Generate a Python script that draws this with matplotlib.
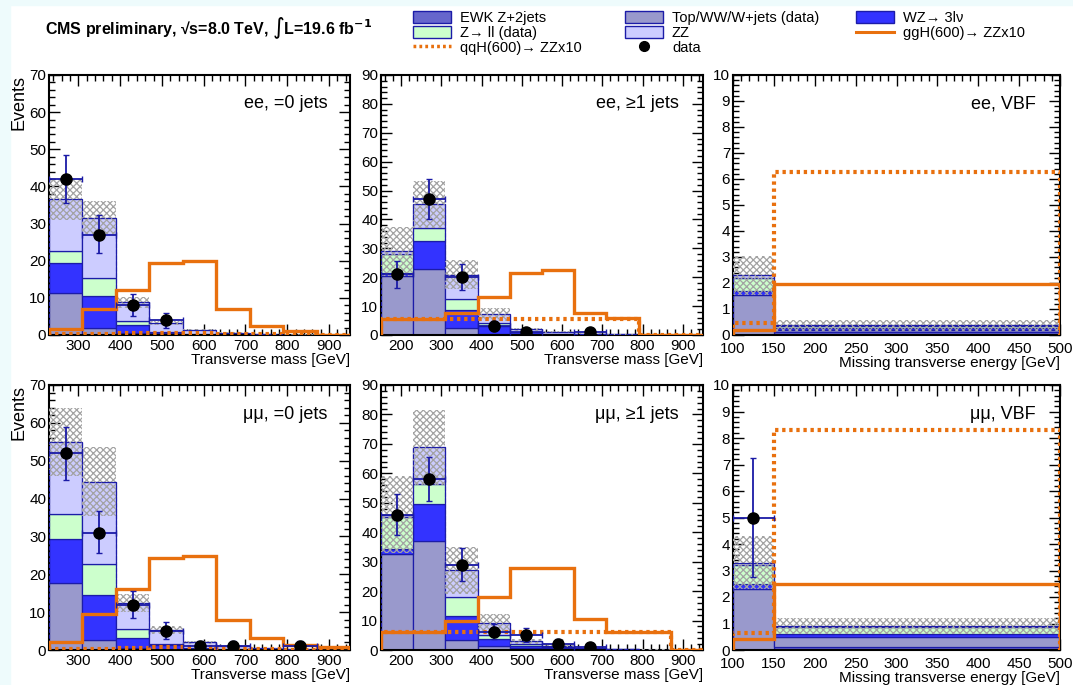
import numpy as np
import matplotlib
matplotlib.use("Agg")
import matplotlib.pyplot as plt
from matplotlib.patches import Patch, Rectangle
from matplotlib.lines import Line2D
from matplotlib.ticker import MultipleLocator

plt.rcParams['font.family'] = ['Liberation Sans', 'DejaVu Sans']
plt.rcParams['hatch.linewidth'] = 0.9

# ---- data ----
mt_edges_0j = [230, 310, 390, 470, 550, 630, 710, 790, 870, 950]
mt_edges_1j = [150, 230, 310, 390, 470, 550, 630, 710, 790, 870, 950]
met_edges_vbf = [100, 150, 500]

# ee, =0 jets
ee0_ewk = [0, 0, 0, 0, 0, 0, 0, 0, 0]
ee0_top = [11.3, 1.8, 0.5, 0.2, 0.1, 0.05, 0, 0, 0]
ee0_wz = [8.0, 8.7, 2.1, 0.4, 0.2, 0.1, 0.05, 0, 0]
ee0_zll = [3.4, 4.8, 1.2, 0.3, 0.1, 0.05, 0, 0, 0]
ee0_zz = [13.8, 16.3, 5.0, 2.4, 0.9, 0.4, 0.25, 0.1, 0.05]
ee0_unc = [5.5, 4.5, 1.4, 0.6, 0.3, 0.15, 0.1, 0.05, 0.02]
ee0_data = [42, 27, 8, 4, 0, 0, 0, 0, 0]
ee0_dlo = [6.5, 5.0, 2.8, 2.0, 0, 0, 0, 0, 0]
ee0_dhi = [6.5, 5.3, 3.0, 2.0, 0, 0, 0, 0, 0]
ee0_ggh = [1.5, 7.0, 12.2, 19.5, 19.8, 7.0, 2.5, 1.0, 0]
ee0_qqh = [0.2, 0.3, 0.5, 0.6, 0.6, 0.4, 0.2, 0.1, 0]

# ee, >=1 jets
ee1_ewk = [0, 0, 0, 0, 0, 0, 0, 0, 0, 0]
ee1_top = [20.5, 22.8, 2.4, 0.5, 0.3, 0.1, 0.05, 0, 0, 0]
ee1_wz = [1.0, 9.7, 6.3, 2.7, 0.6, 0.3, 0.1, 0.05, 0, 0]
ee1_zll = [6.5, 4.4, 3.7, 0.9, 0.3, 0.1, 0.05, 0, 0, 0]
ee1_zz = [1.0, 8.3, 8.4, 3.1, 0.8, 0.5, 0.3, 0.15, 0.05, 0.02]
ee1_unc = [8.5, 8.0, 5.0, 2.2, 0.5, 0.3, 0.15, 0.05, 0.02, 0]
ee1_data = [21, 47, 20, 3, 1, 0, 1, 0, 0, 0]
ee1_dlo = [4.6, 7.0, 4.5, 1.6, 0.8, 0, 0.8, 0, 0, 0]
ee1_dhi = [4.6, 7.0, 4.5, 2.0, 1.3, 0, 1.3, 0, 0, 0]
ee1_ggh = [5.6, 5.6, 7.6, 13.3, 21.4, 22.5, 7.6, 5.9, 0, 0]
ee1_qqh = [5.5, 5.5, 5.5, 5.5, 5.5, 5.5, 5.5, 5.5, 0, 0]

# ee, VBF
eev_ewk = [0.0, 0.1]
eev_top = [1.55, 0.1]
eev_wz = [0.15, 0.05]
eev_zll = [0.5, 0.1]
eev_zz = [0.1, 0.02]
eev_unc = [0.75, 0.2]
eev_data = [0, 0]
eev_dlo = [0, 0]
eev_dhi = [0, 0]
eev_ggh = [0.2, 1.95]
eev_qqh = [0.45, 6.25]

# mumu, =0 jets
mm0_ewk = [0, 0, 0, 0, 0, 0, 0, 0, 0]
mm0_top = [17.8, 2.7, 0.5, 0.2, 0.1, 0.05, 0, 0, 0]
mm0_wz = [11.6, 11.8, 2.6, 1.0, 0.3, 0.15, 0.05, 0.05, 0]
mm0_zll = [6.4, 8.1, 2.4, 0.4, 0.2, 0.1, 0.05, 0, 0]
mm0_zz = [19.2, 21.9, 6.9, 3.7, 1.4, 0.7, 0.3, 0.15, 0.05]
mm0_unc = [9.0, 9.0, 2.3, 1.0, 0.4, 0.2, 0.1, 0.05, 0.02]
mm0_data = [52, 31, 12, 5, 1, 1, 0, 1, 0]
mm0_dlo = [7.0, 5.5, 3.5, 2.2, 0.8, 0.8, 0, 0.8, 0]
mm0_dhi = [7.0, 5.8, 3.6, 2.3, 1.3, 1.3, 0, 1.3, 0]
mm0_ggh = [2.2, 9.6, 16.0, 24.4, 24.8, 8.0, 3.1, 1.3, 0.7]
mm0_qqh = [0.2, 0.3, 0.5, 0.7, 0.7, 0.5, 0.3, 0.1, 0]

# mumu, >=1 jets
mm1_ewk = [0, 0, 0, 0, 0, 0, 0, 0, 0, 0]
mm1_top = [32.7, 37.0, 3.5, 1.5, 0.6, 0.3, 0.1, 0.05, 0, 0]
mm1_wz = [1.5, 12.7, 8.0, 2.4, 0.8, 0.4, 0.2, 0.1, 0.05, 0]
mm1_zll = [11.0, 6.7, 6.5, 1.1, 0.5, 0.2, 0.1, 0.05, 0, 0]
mm1_zz = [0.8, 12.4, 9.1, 4.3, 1.1, 0.6, 0.4, 0.2, 0.1, 0.05]
mm1_unc = [13.0, 12.7, 8.0, 2.8, 0.8, 0.4, 0.2, 0.1, 0.05, 0]
mm1_data = [46, 58, 29, 6, 5, 2, 1, 0, 0, 0]
mm1_dlo = [7.0, 7.5, 5.5, 2.4, 2.2, 1.3, 0.8, 0, 0, 0]
mm1_dhi = [7.0, 7.5, 5.5, 2.8, 2.5, 1.6, 1.3, 0, 0, 0]
mm1_ggh = [6.2, 6.2, 10.0, 18.0, 27.7, 27.7, 10.4, 6.2, 6.2, 0]
mm1_qqh = [6.2, 6.2, 6.2, 6.2, 6.2, 6.2, 6.2, 6.2, 6.2, 0]

# mumu, VBF
mmv_ewk = [0.0, 0.1]
mmv_top = [2.3, 0.4]
mmv_wz = [0.2, 0.1]
mmv_zll = [0.7, 0.25]
mmv_zz = [0.1, 0.05]
mmv_unc = [1.0, 0.3]
mmv_data = [5, 0]
mmv_dlo = [2.25, 0]
mmv_dhi = [2.25, 0]
mmv_ggh = [0.4, 2.5]
mmv_qqh = [0.65, 8.3]

# ---- styles ----
c_ewk = '#6666cc'
c_top = '#9999cc'
c_wz = '#3333ff'
c_zll = '#ccffcc'
c_zz = '#ccccff'
c_line = '#1c1ca8'
c_sig = '#e8700e'
c_err = '#1a1aa6'

W, H = 1073, 685
fig = plt.figure(figsize=(W / 100, H / 100), dpi=100)
fig.patches.append(Rectangle((0, 0), 10 / W, 1, transform=fig.transFigure,
                             color='#eefbfc', zorder=-1))
fig.patches.append(Rectangle((0, 1 - 5 / H), 1, 5 / H, transform=fig.transFigure,
                             color='#eefbfc', zorder=-1))


def ax_at(x0, y0, x1, y1):
    return fig.add_axes([x0 / W, 1 - y1 / H, (x1 - x0) / W, (y1 - y0) / H])


def draw(ax, edges, ewk, top, wz, zll, zz, unc, data, dlo, dhi, ggh, qqh,
         label, xlabel, ymax, xmaj, xmin, ymaj, ymin, ylabel=False, xpad=3, xlpad=0):
    edges = np.array(edges, dtype=float)
    left = edges[:-1]
    width = np.diff(edges)
    base = np.zeros(len(left))
    for vals, col in [(ewk, c_ewk), (top, c_top), (wz, c_wz), (zll, c_zll), (zz, c_zz)]:
        vals = np.array(vals, dtype=float)
        ax.bar(left, vals, width=width, bottom=base, align='edge', color=col,
               edgecolor=c_line, linewidth=0.9, zorder=2)
        base = base + vals
    unc = np.array(unc, dtype=float)
    ax.bar(left, 2 * unc, width=width, bottom=base - unc, align='edge',
           facecolor='none', edgecolor='#a3a3a3', hatch='xxxxx', linewidth=0, zorder=3)
    ax.stairs(base, edges, color=c_line, linestyle='--', linewidth=0.8, zorder=3)
    ax.stairs(ggh, edges, color=c_sig, linewidth=2.4, zorder=4)
    ax.stairs(qqh, edges, color=c_sig, linewidth=3, linestyle=(0, (0.8, 0.9)), zorder=4)
    data = np.array(data, dtype=float)
    m = data > 0
    xc = left + width / 2
    ax.errorbar(xc[m], data[m], xerr=width[m] / 2,
                yerr=[np.array(dlo)[m], np.array(dhi)[m]], fmt='o', color='black',
                ecolor=c_err, elinewidth=1.3, capsize=2.5, markersize=8, zorder=5)
    ax.set_xlim(edges[0], edges[-1])
    ax.set_ylim(0, ymax)
    ax.xaxis.set_major_locator(MultipleLocator(xmaj))
    ax.xaxis.set_minor_locator(MultipleLocator(xmin))
    ax.yaxis.set_major_locator(MultipleLocator(ymaj))
    ax.yaxis.set_minor_locator(MultipleLocator(ymin))
    ax.tick_params(which='both', direction='in', top=True, right=True, labelsize=11, width=1)
    ax.tick_params(which='major', length=8)
    ax.tick_params(axis='x', which='major', pad=xpad)
    ax.tick_params(axis='y', which='major', pad=2)
    ax.tick_params(which='minor', length=4)
    for s in ax.spines.values():
        s.set_linewidth(1.5)
    ax.text(0.925, 0.89, label, transform=ax.transAxes, ha='right', va='center', fontsize=13)
    ax.set_xlabel(xlabel, fontsize=11, loc='right', labelpad=xlpad)
    if ylabel:
        ax.set_ylabel('Events', fontsize=13, loc='top', labelpad=1)


mtl = 'Transverse mass [GeV]'
metl = 'Missing transverse energy [GeV]'

a1 = ax_at(49, 75, 350, 335)
draw(a1, mt_edges_0j, ee0_ewk, ee0_top, ee0_wz, ee0_zll, ee0_zz, ee0_unc, ee0_data,
     ee0_dlo, ee0_dhi, ee0_ggh, ee0_qqh, 'ee, =0 jets', mtl, 70, 100, 20, 10, 2, True)
a2 = ax_at(381, 75, 703, 335)
draw(a2, mt_edges_1j, ee1_ewk, ee1_top, ee1_wz, ee1_zll, ee1_zz, ee1_unc, ee1_data,
     ee1_dlo, ee1_dhi, ee1_ggh, ee1_qqh, 'ee, \u22651 jets', mtl, 90, 100, 20, 10, 2)
a3 = ax_at(733, 75, 1060, 335)
draw(a3, met_edges_vbf, eev_ewk, eev_top, eev_wz, eev_zll, eev_zz, eev_unc, eev_data,
     eev_dlo, eev_dhi, eev_ggh, eev_qqh, 'ee, VBF', metl, 10, 50, 10, 1, 0.2, xpad=5)
a4 = ax_at(49, 385, 350, 650)
draw(a4, mt_edges_0j, mm0_ewk, mm0_top, mm0_wz, mm0_zll, mm0_zz, mm0_unc, mm0_data,
     mm0_dlo, mm0_dhi, mm0_ggh, mm0_qqh, '\u03bc\u03bc, =0 jets', mtl, 70, 100, 20, 10, 2, True)
a5 = ax_at(381, 385, 703, 650)
draw(a5, mt_edges_1j, mm1_ewk, mm1_top, mm1_wz, mm1_zll, mm1_zz, mm1_unc, mm1_data,
     mm1_dlo, mm1_dhi, mm1_ggh, mm1_qqh, '\u03bc\u03bc, \u22651 jets', mtl, 90, 100, 20, 10, 2)
a6 = ax_at(733, 385, 1060, 650)
draw(a6, met_edges_vbf, mmv_ewk, mmv_top, mmv_wz, mmv_zll, mmv_zz, mmv_unc, mmv_data,
     mmv_dlo, mmv_dhi, mmv_ggh, mmv_qqh, '\u03bc\u03bc, VBF', metl, 10, 50, 10, 1, 0.2, xpad=5)

fig.text(45 / W, 1 - 28 / H, 'CMS preliminary, \u221as=8.0 TeV, \u222bL=19.6 fb$^{\\mathbf{-1}}$',
         fontsize=11.5, fontweight='bold', va='center', ha='left')


def patch(c):
    return Patch(facecolor=c, edgecolor=c_line, linewidth=1)


h_ewk = patch(c_ewk)
h_zll = patch(c_zll)
h_qqh = Line2D([], [], color=c_sig, linewidth=2.5, linestyle=(0, (0.8, 0.9)))
h_top = patch(c_top)
h_zz = patch(c_zz)
h_data = Line2D([], [], color='black', marker='o', linestyle='none', markersize=7)
h_wz = patch(c_wz)
h_ggh = Line2D([], [], color=c_sig, linewidth=2.2)

leg_kw = dict(frameon=False, fontsize=10.5, handlelength=2.6, handleheight=0.9,
              labelspacing=0.05, borderpad=0, handletextpad=0.6, loc='upper left')
fig.legend([h_ewk, h_zll, h_qqh], ['EWK Z+2jets', 'Z\u2192 ll (data)', 'qqH(600)\u2192 ZZx10'],
           bbox_to_anchor=(406 / W, 1 - 4 / H), **leg_kw)
fig.legend([h_top, h_zz, h_data], ['Top/WW/W+jets (data)', 'ZZ', 'data'],
           bbox_to_anchor=(618 / W, 1 - 4 / H), **leg_kw)
fig.legend([h_wz, h_ggh], ['WZ\u2192 3l\u03bd', 'ggH(600)\u2192 ZZx10'],
           bbox_to_anchor=(849 / W, 1 - 4 / H), **leg_kw)

fig.savefig('out.png', dpi=100)
